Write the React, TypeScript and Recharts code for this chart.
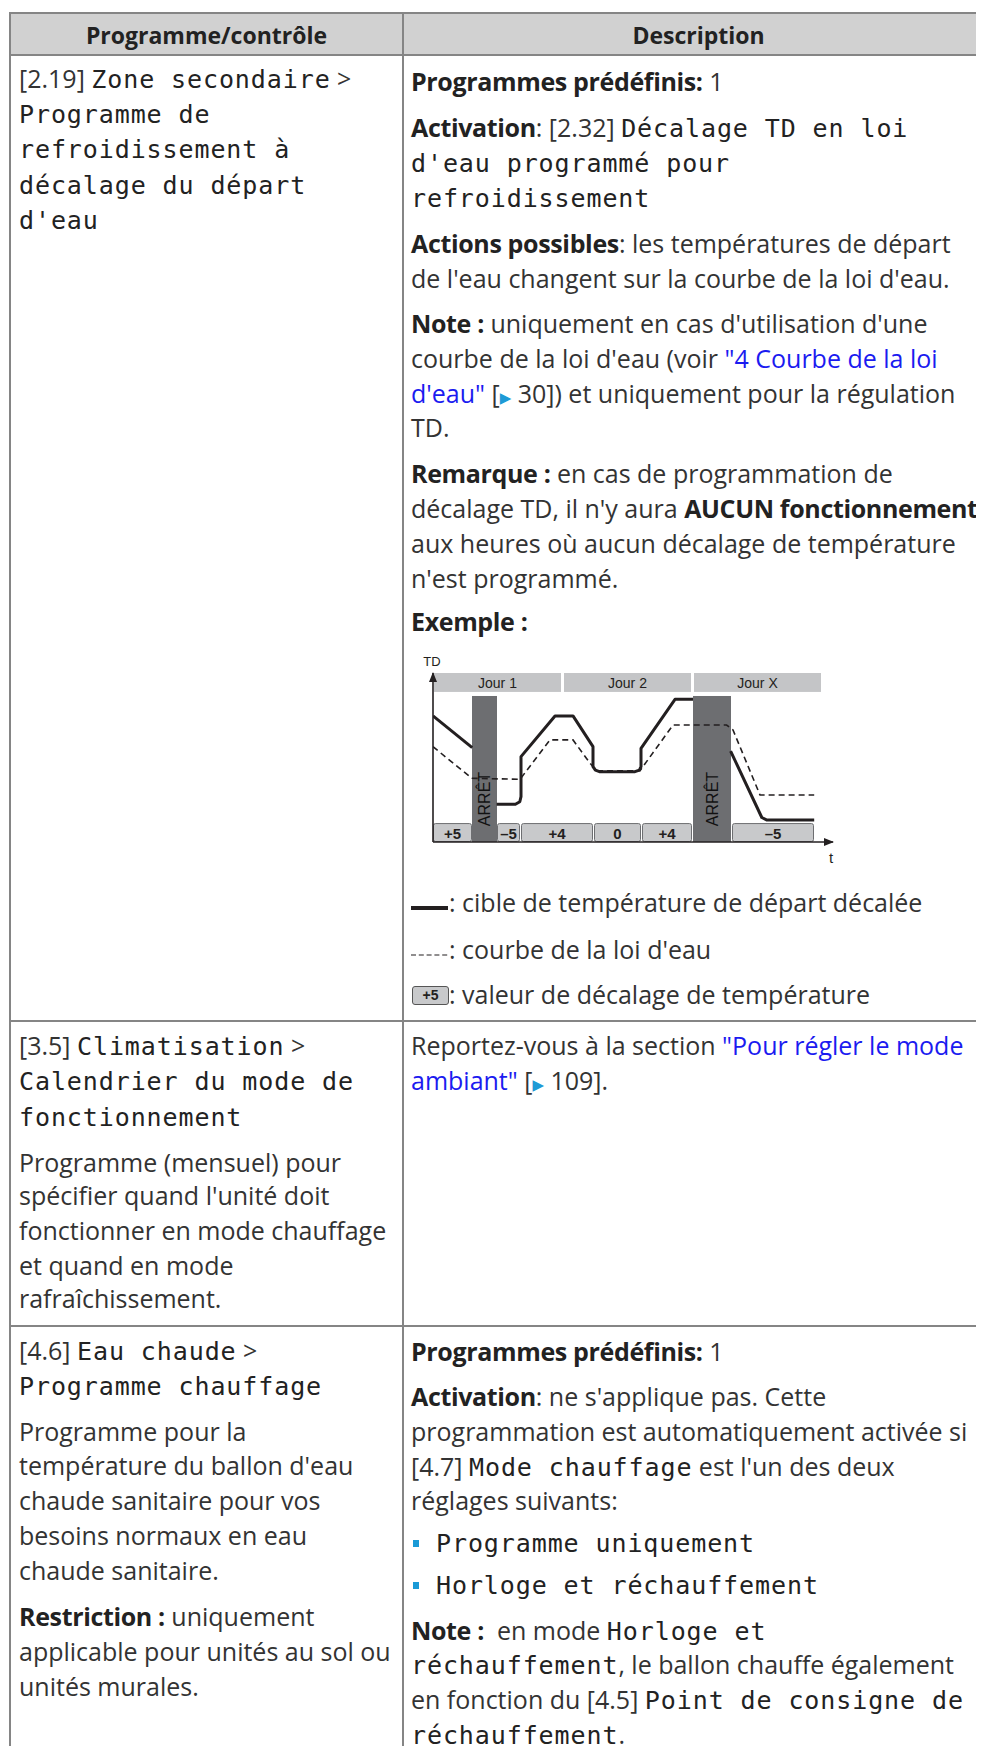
import React from 'react'
import {
  ComposedChart,
  Line,
  XAxis,
  YAxis,
  ReferenceArea,
  ReferenceLine,
  ReferenceDot,
} from 'recharts'

// time runs 0..100 along the x axis, TD (departure temperature) 0..100 up the y axis
const dayLabels = ['Jour 1', 'Jour 2', 'Jour X']
const dayStart = [0.25, 32.75, 65.25]
const dayEnd = [32, 64.5, 97]
const dayBand = [88.8, 100]

const arretStart = [9.75, 65]
const arretEnd = [16, 74.5]
const arretTop = 86.4

const offsetLabels = ['+5', '–5', '+4', '0', '+4', '–5']
const offsetStart = [0, 16, 22, 40.25, 52.25, 74.75]
const offsetEnd = [9.75, 21.75, 40, 52, 64.75, 95.25]
const offsetTop = 11.2

// solid line: shifted target temperature (3 parts, interrupted by ARRÊT)
const targetPart1 = [
  [0, 74.6],
  [9.8, 55.8],
]
const targetPart2 = [
  [15.9, 22.3],
  [20.6, 22.3],
  [21.7, 23.8],
  [22, 26.8],
  [22, 50.5],
  [30.5, 74.6],
  [35, 74.6],
  [40, 56.4],
  [40, 44.6],
  [40.6, 42.5],
  [41.6, 41.6],
  [50.5, 41.6],
  [51.6, 42.5],
  [52, 44.6],
  [52, 55.4],
  [60.5, 84.4],
  [65, 84.4],
]
const targetPart3 = [
  [74.4, 53.8],
  [82.2, 14.5],
  [83.5, 13],
  [95.3, 13],
]

// dashed line: weather dependent curve
const curvePoints = [
  [0, 56.4],
  [9.7, 37.7],
  [21.75, 37.1],
  [29.25, 60.4],
  [35, 60.4],
  [39.25, 46.6],
  [40.9, 42.2],
  [51.75, 42.2],
  [60, 69.2],
  [73.4, 69.2],
  [75, 66.3],
  [81.75, 27.8],
  [95.3, 27.8],
]

const toData = (pts: number[][]) => pts.map(([x, y]) => ({ x, y }))

const INK = '#231f20'
const CHART_FONT = '"Liberation Sans", Arial, sans-serif'

const dayShape = (label: string) => (p: any) => (
  <g>
    <rect x={p.x} y={p.y} width={p.width} height={p.height} fill="#c4c5c7" />
    <text
      x={p.x + p.width / 2}
      y={p.y + p.height / 2}
      dy="0.36em"
      textAnchor="middle"
      fontFamily={CHART_FONT}
      fontSize={14}
      fill={INK}
    >
      {label}
    </text>
  </g>
)

const arretShape = (p: any) => {
  const cx = p.x + p.width / 2
  const cy = p.y + p.height - 43
  return (
    <g>
      <rect x={p.x} y={p.y} width={p.width} height={p.height} fill="#6d6e71" />
      <text
        x={cx}
        y={cy}
        dy="0.36em"
        textAnchor="middle"
        transform={`rotate(-90 ${cx} ${cy})`}
        fontFamily={CHART_FONT}
        fontSize={16}
        fill="#111"
      >
        ARRÊT
      </text>
    </g>
  )
}

const offsetShape = (label: string) => (p: any) => (
  <g>
    <rect
      x={p.x + 0.5}
      y={p.y + 0.5}
      width={p.width - 1}
      height={p.height - 1}
      rx={2}
      fill="#c8c9cb"
      stroke="#6d6e71"
      strokeWidth={1}
    />
    <text
      x={p.x + p.width / 2}
      y={p.y + p.height / 2 + 1}
      dy="0.36em"
      textAnchor="middle"
      fontFamily={CHART_FONT}
      fontWeight={700}
      fontSize={15}
      fill={INK}
    >
      {label}
    </text>
  </g>
)

const arrowUp = (p: any) => (
  <g>
    <path d={`M${p.cx - 4},${p.cy + 9} L${p.cx},${p.cy - 1} L${p.cx + 4},${p.cy + 9} Z`} fill={INK} />
    <text x={p.cx - 1} y={p.cy - 7} textAnchor="middle" fontFamily={CHART_FONT} fontSize={13} fill={INK}>
      TD
    </text>
  </g>
)

const arrowRight = (p: any) => (
  <g>
    <path d={`M${p.cx - 9},${p.cy - 4} L${p.cx + 1},${p.cy} L${p.cx - 9},${p.cy + 4} Z`} fill={INK} />
    <text x={p.cx - 2} y={p.cy + 21} textAnchor="middle" fontFamily={CHART_FONT} fontSize={15} fill={INK}>
      t
    </text>
  </g>
)

function ExampleChart() {
  return (
    <ComposedChart width={440} height={225} margin={{ top: 23, right: 17, bottom: 33, left: 23 }}>
      <XAxis type="number" dataKey="x" domain={[0, 100]} allowDataOverflow hide />
      <YAxis type="number" dataKey="y" domain={[0, 100]} allowDataOverflow hide />
      {dayLabels.map((d, i) => (
        <ReferenceArea
          key={d}
          x1={dayStart[i]}
          x2={dayEnd[i]}
          y1={dayBand[0]}
          y2={dayBand[1]}
          ifOverflow="visible"
          shape={dayShape(d)}
        />
      ))}
      {offsetLabels.map((o, i) => (
        <ReferenceArea
          key={'o' + i}
          x1={offsetStart[i]}
          x2={offsetEnd[i]}
          y1={0}
          y2={offsetTop}
          ifOverflow="visible"
          shape={offsetShape(o)}
        />
      ))}
      {arretStart.map((s, i) => (
        <ReferenceArea
          key={'a' + i}
          x1={s}
          x2={arretEnd[i]}
          y1={0}
          y2={arretTop}
          ifOverflow="visible"
          shape={arretShape}
        />
      ))}
      <Line
        data={toData(curvePoints)}
        dataKey="y"
        type="linear"
        stroke={INK}
        strokeWidth={1.6}
        strokeDasharray="6 4"
        dot={false}
        isAnimationActive={false}
      />
      {[targetPart1, targetPart2, targetPart3].map((seg, i) => (
        <Line
          key={'t' + i}
          data={toData(seg)}
          dataKey="y"
          type="linear"
          stroke={INK}
          strokeWidth={3}
          strokeLinejoin="round"
          dot={false}
          isAnimationActive={false}
        />
      ))}
      <ReferenceLine segment={[{ x: 0, y: 0 }, { x: 100, y: 0 }]} stroke={INK} strokeWidth={1.6} ifOverflow="visible" />
      <ReferenceLine segment={[{ x: 0, y: 0 }, { x: 0, y: 100 }]} stroke={INK} strokeWidth={1.6} ifOverflow="visible" />
      <ReferenceDot x={0} y={100} r={1} ifOverflow="visible" shape={arrowUp} />
      <ReferenceDot x={100} y={0} r={1} ifOverflow="visible" shape={arrowRight} />
    </ComposedChart>
  )
}

const BODY_FONT = '"Open Sans", "Noto Sans", sans-serif'
const MONO_FONT = '"DejaVu Sans Mono", "Liberation Mono", monospace'
const TEXT = '#333'
const BORDER = '#858585'

const B = ({ children }: any) => (
  <span style={{ fontWeight: 700, color: '#222', letterSpacing: -0.35 }}>{children}</span>
)
const M = ({ children }: any) => (
  <span style={{ fontFamily: MONO_FONT, fontSize: 25, letterSpacing: 0.9, color: '#222' }}>{children}</span>
)
const L = ({ children }: any) => <span style={{ color: '#1b1bf0' }}>{children}</span>
const Arrow = () => (
  <span style={{ color: '#1e9ad6', fontSize: 15, fontFamily: '"DejaVu Sans", sans-serif' }}>▶</span>
)

// one text line, placed by its baseline
const Ln = ({ x, bl, children }: any) => (
  <div style={{ position: 'absolute', left: x, top: bl - 27, lineHeight: '35px', whiteSpace: 'nowrap' }}>
    {children}
  </div>
)

const Bullet = ({ bl, children }: any) => (
  <>
    <div style={{ position: 'absolute', left: 413, top: bl - 12, width: 6, height: 7, background: '#1a9ad6' }} />
    <Ln x={436} bl={bl}>
      <M>{children}</M>
    </Ln>
  </>
)

const C1 = 19
const C2 = 411

export default function App() {
  return (
    <div
      style={{
        position: 'relative',
        width: 984,
        height: 1754,
        margin: -8,
        overflow: 'hidden',
        background: '#fff',
        fontFamily: BODY_FONT,
        fontSize: 25,
        color: TEXT,
      }}
    >
      {/* table frame */}
      <div style={{ position: 'absolute', left: 10, top: 13, width: 990, height: 42, background: '#d1d1d1' }} />
      <div style={{ position: 'absolute', left: 9, top: 12, width: 992, height: 2, background: BORDER }} />
      <div style={{ position: 'absolute', left: 9, top: 54, width: 992, height: 2, background: BORDER }} />
      <div style={{ position: 'absolute', left: 9, top: 1020, width: 992, height: 2, background: BORDER }} />
      <div style={{ position: 'absolute', left: 9, top: 1325, width: 992, height: 2, background: BORDER }} />
      <div style={{ position: 'absolute', left: 9, top: 12, width: 2, height: 1760, background: BORDER }} />
      <div style={{ position: 'absolute', left: 402, top: 12, width: 2, height: 1760, background: BORDER }} />

      {/* header */}
      <div
        style={{
          position: 'absolute',
          left: 10,
          width: 393,
          top: 19,
          lineHeight: '32px',
          textAlign: 'center',
          fontWeight: 700,
          fontSize: 23,
          color: '#222',
        }}
      >
        Programme/contrôle
      </div>
      <div
        style={{
          position: 'absolute',
          left: 403,
          width: 591,
          top: 19,
          lineHeight: '32px',
          textAlign: 'center',
          fontWeight: 700,
          fontSize: 23,
          color: '#222',
        }}
      >
        Description
      </div>

      {/* row 1, left */}
      <Ln x={C1} bl={88}>
        [2.19] <M>Zone secondaire</M> &gt;
      </Ln>
      <Ln x={C1} bl={123}><M>Programme de</M></Ln>
      <Ln x={C1} bl={158}><M>refroidissement à</M></Ln>
      <Ln x={C1} bl={193.5}><M>décalage du départ</M></Ln>
      <Ln x={C1} bl={229}><M>d'eau</M></Ln>

      {/* row 1, right */}
      <Ln x={C2} bl={91}>
        <B>Programmes prédéfinis:</B> 1
      </Ln>
      <Ln x={C2} bl={137}>
        <B>Activation</B>: [2.32] <M>Décalage TD en loi</M>
      </Ln>
      <Ln x={C2} bl={172}><M>d'eau programmé pour</M></Ln>
      <Ln x={C2} bl={207}><M>refroidissement</M></Ln>
      <Ln x={C2} bl={253}>
        <B>Actions possibles</B>: les températures de départ
      </Ln>
      <Ln x={C2} bl={288}>de l'eau changent sur la courbe de la loi d'eau.</Ln>
      <Ln x={C2} bl={333}>
        <B>Note :</B> uniquement en cas d'utilisation d'une
      </Ln>
      <Ln x={C2} bl={368}>
        courbe de la loi d'eau (voir <L>"4 Courbe de la loi</L>
      </Ln>
      <Ln x={C2} bl={403}>
        <L>d'eau"</L> [<Arrow /> 30]) et uniquement pour la régulation
      </Ln>
      <Ln x={C2} bl={437}>TD.</Ln>
      <Ln x={C2} bl={483}>
        <B>Remarque :</B> en cas de programmation de
      </Ln>
      <Ln x={C2} bl={518}>
        décalage TD, il n'y aura <B>AUCUN fonctionnement</B>
      </Ln>
      <Ln x={C2} bl={553}>aux heures où aucun décalage de température</Ln>
      <Ln x={C2} bl={588}>n'est programmé.</Ln>
      <Ln x={C2} bl={631}>
        <B>Exemple :</B>
      </Ln>

      <div style={{ position: 'absolute', left: 410, top: 650 }}>
        <ExampleChart />
      </div>

      {/* legend */}
      <div style={{ position: 'absolute', left: 411, top: 906, width: 37, height: 3.5, background: INK }} />
      <Ln x={449} bl={912}>: cible de température de départ décalée</Ln>
      <svg style={{ position: 'absolute', left: 411, top: 953 }} width={39} height={4}>
        <line x1={0} y1={2} x2={39} y2={2} stroke={INK} strokeWidth={1.2} strokeDasharray="5 2.8" />
      </svg>
      <Ln x={449} bl={959}>: courbe de la loi d'eau</Ln>
      <div
        style={{
          position: 'absolute',
          left: 412,
          top: 986,
          width: 35,
          height: 17,
          background: '#c8c9cb',
          border: '1px solid #555',
          borderRadius: 3,
          fontFamily: CHART_FONT,
          fontWeight: 700,
          fontSize: 14,
          lineHeight: '17px',
          textAlign: 'center',
          color: INK,
        }}
      >
        +5
      </div>
      <Ln x={449} bl={1004}>: valeur de décalage de température</Ln>

      {/* row 2 */}
      <Ln x={C1} bl={1055}>
        [3.5] <M>Climatisation</M> &gt;
      </Ln>
      <Ln x={C1} bl={1090}><M>Calendrier du mode de</M></Ln>
      <Ln x={C1} bl={1126}><M>fonctionnement</M></Ln>
      <Ln x={C1} bl={1172}>Programme (mensuel) pour</Ln>
      <Ln x={C1} bl={1205}>spécifier quand l'unité doit</Ln>
      <Ln x={C1} bl={1240}>fonctionner en mode chauffage</Ln>
      <Ln x={C1} bl={1275}>et quand en mode</Ln>
      <Ln x={C1} bl={1308}>rafraîchissement.</Ln>

      <Ln x={C2} bl={1055}>
        Reportez-vous à la section <L>"Pour régler le mode</L>
      </Ln>
      <Ln x={C2} bl={1090}>
        <L>ambiant"</L> [<Arrow /> 109].
      </Ln>

      {/* row 3 */}
      <Ln x={C1} bl={1360}>
        [4.6] <M>Eau chaude</M> &gt;
      </Ln>
      <Ln x={C1} bl={1395}><M>Programme chauffage</M></Ln>
      <Ln x={C1} bl={1441}>Programme pour la</Ln>
      <Ln x={C1} bl={1475}>température du ballon d'eau</Ln>
      <Ln x={C1} bl={1510}>chaude sanitaire pour vos</Ln>
      <Ln x={C1} bl={1545}>besoins normaux en eau</Ln>
      <Ln x={C1} bl={1580}>chaude sanitaire.</Ln>
      <Ln x={C1} bl={1626}>
        <B>Restriction :</B> uniquement
      </Ln>
      <Ln x={C1} bl={1661}>applicable pour unités au sol ou</Ln>
      <Ln x={C1} bl={1696}>unités murales.</Ln>

      <Ln x={C2} bl={1361}>
        <B>Programmes prédéfinis:</B> 1
      </Ln>
      <Ln x={C2} bl={1406}>
        <B>Activation</B>: ne s'applique pas. Cette
      </Ln>
      <Ln x={C2} bl={1441}>programmation est automatiquement activée si</Ln>
      <Ln x={C2} bl={1476}>
        [4.7] <M>Mode chauffage</M> est l'un des deux
      </Ln>
      <Ln x={C2} bl={1510}>réglages suivants:</Ln>
      <Bullet bl={1552}>Programme uniquement</Bullet>
      <Bullet bl={1594}>Horloge et réchauffement</Bullet>
      <Ln x={C2} bl={1640}>
        <B>Note :</B>&nbsp; en mode <M>Horloge et</M>
      </Ln>
      <Ln x={C2} bl={1674}>
        <M>réchauffement</M>, le ballon chauffe également
      </Ln>
      <Ln x={C2} bl={1709}>
        en fonction du [4.5] <M>Point de consigne de</M>
      </Ln>
      <Ln x={C2} bl={1744}>
        <M>réchauffement</M>.
      </Ln>
    </div>
  )
}
